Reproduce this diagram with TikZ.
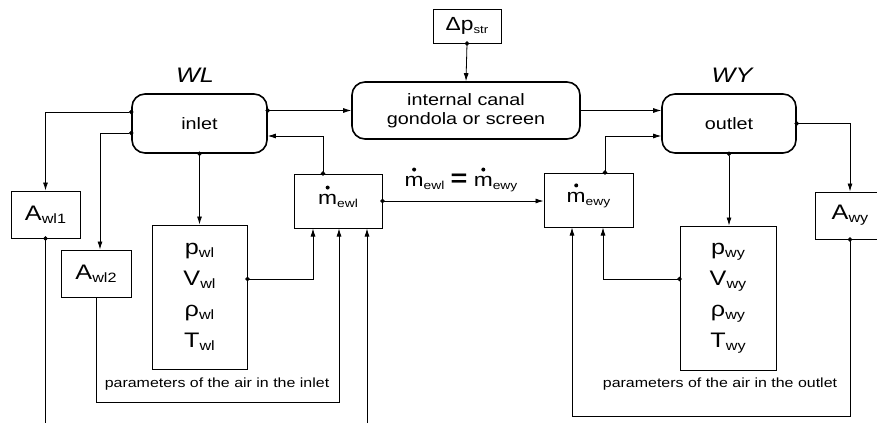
\documentclass[tikz,border=0pt]{standalone}
\usepackage{fontspec}
\setmainfont[FakeStretch=1.2]{Liberation Sans}
\usetikzlibrary{arrows.meta,positioning,calc}

\newcommand{\lo}[2][13.5]{\raisebox{-3pt}{\fontsize{#1}{#1}\selectfont #2}}
\newcommand{\mflow}{\leavevmode\ooalign{m\cr\hidewidth\raisebox{15pt}{\tikz\fill (0,0) circle (2pt);}\hidewidth\cr}}
\tikzset{
  rbox/.style={draw,line width=1.6pt,rounded corners=13pt,align=center},
  sbox/.style={draw,line width=1pt,inner sep=0pt},
  arr/.style={-{Latex[length=8pt,width=5pt]}},
  dotarr/.style={{Circle[length=4.5pt]}-{Latex[length=8pt,width=5pt]},shorten <=-2.25pt},
  dotln/.style={{Circle[length=4.5pt]}-,shorten <=-2.25pt},
  lbl/.style={font=\fontsize{21}{21}\selectfont\itshape},
  captxt/.style={font=\fontsize{13.3}{14}\selectfont},
}

\begin{document}
\begin{tikzpicture}[x=1pt,y=-1pt,line width=0.8pt]
  \useasboundingbox (0,0) rectangle (877,423);
  \node [sbox,minimum width=68pt,minimum height=34pt,font=\fontsize{19}{19}\selectfont] (dpstr) at (467,26) {Δp\lo[11]{str}};
  \node [rbox,minimum width=228pt,minimum height=57pt,font=\fontsize{16.5}{19}\selectfont] (canal) at (466,110.5) {internal canal\\gondola or screen};
  \node [rbox,minimum width=135pt,minimum height=59pt,font=\fontsize{16.5}{19}\selectfont] (inlet) at (199.5,123.5) {inlet};
  \node [rbox,minimum width=134pt,minimum height=59pt,font=\fontsize{16.5}{19}\selectfont] (outlet) at (729,123.5) {outlet};
  \node [lbl] (wl) at (195,75) {WL};
  \node [lbl] (wy) at (732,75) {WY};
  \node [sbox,minimum width=88pt,minimum height=54pt,font=\fontsize{19}{19}\selectfont] (mewl) at (338,201) {\mflow\lo[11.5]{ewl}};
  \node [sbox,minimum width=89pt,minimum height=54pt,font=\fontsize{19}{19}\selectfont] (mewy) at (588.5,200) {\mflow\lo[11.5]{ewy}};
  \node [font=\fontsize{19}{19}\selectfont] (eq) at (461,183) {\mflow\lo[11.5]{ewl} {\fontsize{24}{24}\selectfont\textbf{=}} \mflow\lo[11.5]{ewy}};
  \node [sbox,minimum width=69pt,minimum height=47pt,font=\fontsize{21}{21}\selectfont] (awl1) at (45.5,214.5) {A\lo{wl1}};
  \node [sbox,minimum width=70pt,minimum height=47pt,font=\fontsize{21}{21}\selectfont] (awl2) at (96,273.5) {A\lo{wl2}};
  \node [sbox,minimum width=70pt,minimum height=47pt,font=\fontsize{21}{21}\selectfont] (awy) at (850,215.5) {A\lo{wy}};
  \node [sbox,minimum width=95pt,minimum height=144pt,align=center,font=\fontsize{21}{31}\selectfont] (pwl) at (199.5,297) {p\lo{wl}\\V\lo{wl}\\ρ\lo{wl}\\T\lo{wl}};
  \node [sbox,minimum width=96pt,minimum height=144pt,align=center,font=\fontsize{21}{31}\selectfont] (pwy) at (728,298) {p\lo{wy}\\V\lo{wy}\\ρ\lo{wy}\\T\lo{wy}};
  \node [captxt] (capl) at (217,384) {parameters of the air in the inlet};
  \node [captxt] (capy) at (720,384) {parameters of the air in the outlet};
  \coordinate (pin) at (367,423);
  % top row
  \draw [dotarr] (dpstr.south) -- (canal.north);
  \draw [dotarr] (inlet.east |- canal.west) -- (canal.west);
  \draw [arr] (canal.east) -- (canal.east -| outlet.west);
  \draw [dotarr] ([xshift=-15pt]mewl.north) |- ([yshift=-12.5pt]inlet.east);
  \draw [dotarr] ([xshift=16.5pt]mewy.north) |- ([yshift=-12.5pt]outlet.west);
  \draw [dotarr] (mewl.east) -- (mewl.east -| mewy.west);
  % inlet side
  \draw [dotarr] ([yshift=11.5pt]inlet.west) -| (awl1.north);
  \draw [dotarr] ([yshift=-9.5pt]inlet.west) -| ([xshift=4pt]awl2.north);
  \draw [dotarr] (inlet.south) -- (pwl.north);
  \draw [dotarr] ([yshift=18pt]pwl.east) -| ([xshift=-25pt]mewl.south);
  \draw [arr] (awl2.south) -- ++(0,105) -| ([xshift=1pt]mewl.south);
  \draw [arr] (pin) -- (pin |- mewl.south);
  \draw [dotln] (awl1.south) -- (awl1.south |- pin);
  % outlet side
  \draw [dotarr] (outlet.south) -- (outlet.south |- pwy.north);
  \draw [dotarr] (outlet.east) -| (awy.north);
  \draw [dotarr] ([yshift=19pt]pwy.west) -| ([xshift=14.5pt]mewy.south);
  \draw [dotarr] (awy.south) -- ++(0,177) -| ([xshift=-16.5pt]mewy.south);
\end{tikzpicture}
\end{document}
